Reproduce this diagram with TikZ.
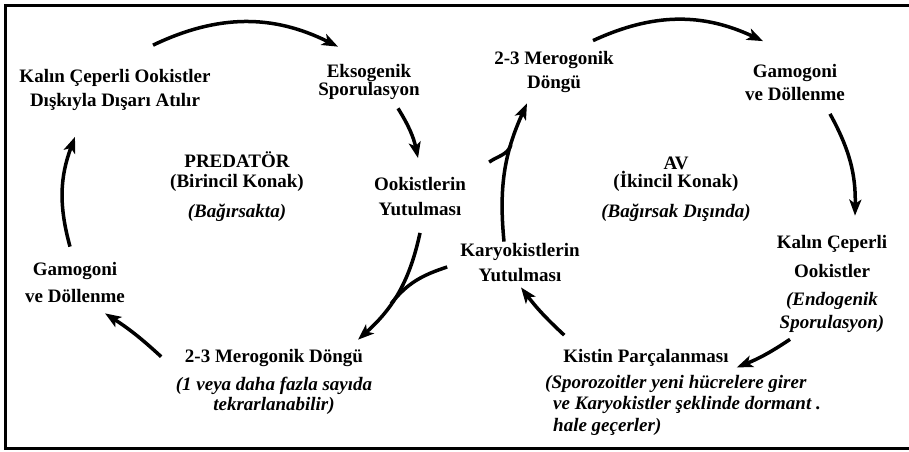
\documentclass[tikz,border=0pt]{standalone}
\usepackage{fontspec}
\setmainfont{Liberation Serif}
\usetikzlibrary{arrows.meta}

\begin{document}
\begin{tikzpicture}[x=1pt,y=1pt,
      stage/.style={font=\fontsize{19}{24}\selectfont\bfseries,
                    align=center, inner sep=2pt},
      note/.style={font=\fontsize{19}{21.5}\selectfont\bfseries\itshape,
                   align=left, inner sep=0pt},
      arr/.style={-{Stealth[length=16pt,width=12pt,inset=4pt]}, line width=3.5pt},
      lin/.style={line width=3.5pt},
      frame/.style={line width=3pt}
  ]
    \useasboundingbox (0,0) rectangle (909,451);
    \draw[frame] (909,445.5) -- (5,445.5) -- (5,2.5) -- (909,2.5);

    % predator side
    \node[stage] (kalin) at (115,361) {Kalın Çeperli Ookistler\\Dışkıyla Dışarı Atılır};
    \node[stage] (ekso) at (369,369.5) {Eksogenik\\[-6pt]Sporulasyon};
    \node[stage] (ook) at (420,254.5) {Ookistlerin\\[1pt]Yutulması};
    \node[stage] (pred) at (237,264) {PREDATÖR\\[-4pt](Birincil Konak)\\[6pt]\textit{(Bağırsakta)}};
    \node[stage] (gamL) at (75,169) {Gamogoni\\[3pt]ve Döllenme};
    \node[stage] (merL) at (274,69.5) {2-3 Merogonik Döngü\\[4pt]\textit{(1 veya daha fazla sayıda}\\[-4pt]\textit{tekrarlanabilir)}};

    % prey side
    \node[stage] (merR) at (554,378.5) {2-3 Merogonik\\Döngü};
    \node[stage] (gamR) at (795,368.5) {Gamogoni\\[-1pt]ve Döllenme};
    \node[stage] (av) at (676,261.5) {AV\\[-6pt](İkincil Konak)\\[6pt]\textit{(Bağırsak Dışında)}};
    \node[stage] (kary) at (520,188) {Karyokistlerin\\[1pt]Yutulması};
    \node[stage] (kalR) at (832,167.5) {Kalın Çeperli\\[5pt]Ookistler\\[4pt]\textit{(Endogenik}\hspace*{22pt}\\[-1pt]\textit{Sporulasyon)}};
    \node[stage, anchor=base] (kist) at (646,89) {Kistin Parçalanması};
    \node[note, anchor=north west] (kistnote) at (545,76) {(Sporozoitler yeni hücrelere girer\\\hspace*{8pt}ve Karyokistler şeklinde dormant .\\\hspace*{8pt}hale geçerler)};

    % cycle arrows
    \draw[arr] ([xshift=38pt,yshift=22pt]kalin.north) to[bend left=26] ([xshift=-31pt,yshift=15pt]ekso.north);
    \draw[arr] ([xshift=29pt,yshift=-7pt]ekso.south) to[bend left=10] ([xshift=-2pt,yshift=17pt]ook.north);
    \draw[arr] ([yshift=-15pt]ook.south) to[bend left=18] coordinate[pos=0.62] (j1) ([xshift=84pt,yshift=7pt]merL.north);
    \draw[lin] ([xshift=-11pt,yshift=-4pt]kary.west) to[out=198,in=52] (j1);
    \draw[arr] ([xshift=-12.5pt,yshift=-10pt]merL.north west) to[bend right=5] ([xshift=-22pt,yshift=-9pt]gamL.south east);
    \draw[arr] ([xshift=-5pt,yshift=13pt]gamL.north) to[bend left=18] ([xshift=-40pt,yshift=-24pt]kalin.south);

    \draw[arr] ([xshift=39pt,yshift=9pt]merR.north) to[bend left=25] ([xshift=-32pt,yshift=21pt]gamR.north);
    \draw[arr] ([xshift=35pt,yshift=-11pt]gamR.south) to[bend left=15] ([xshift=23pt,yshift=17pt]kalR.north);
    \draw[arr] ([xshift=-42pt,yshift=-5pt]kalR.south) to[bend left=6] ([xshift=6pt,yshift=-10pt]kist.east);
    \draw[arr] ([xshift=3pt,yshift=11.5pt]kist.north west) to[bend left=5] ([xshift=1pt,yshift=-3pt]kary.south);
    \draw[arr] ([xshift=-16pt]kary.north) to[bend left=15] coordinate[pos=0.7] (j2) ([xshift=-27pt,yshift=-8pt]merR.south);
    \draw[lin] ([xshift=21pt,yshift=13pt]ook.north east) to[out=35,in=250] (j2);
  \end{tikzpicture}
\end{document}
